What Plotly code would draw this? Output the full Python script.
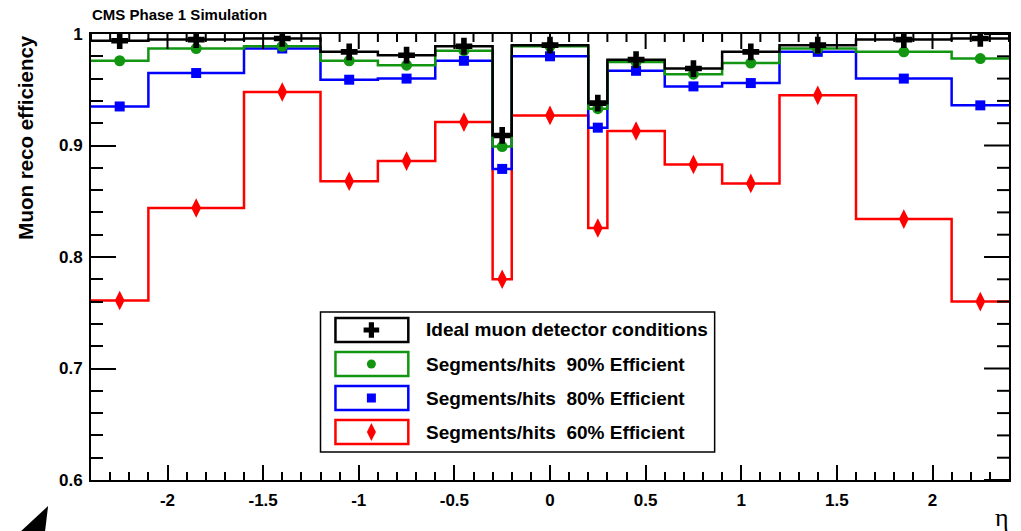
import plotly.graph_objects as go

# Bin edges and centres in eta
eta_edges = [-2.4, -2.1, -1.6, -1.2, -0.9, -0.6, -0.3, -0.2, 0.2, 0.3, 0.6, 0.9, 1.2, 1.6, 2.1, 2.4]
eta_centers = [-2.25, -1.85, -1.4, -1.05, -0.75, -0.45, -0.25, 0.0, 0.25, 0.45, 0.75, 1.05, 1.4, 1.85, 2.25]

# Muon reconstruction efficiency per eta bin
eff_ideal = [0.994, 0.995, 0.996, 0.984, 0.981, 0.989, 0.909, 0.990, 0.938, 0.977, 0.969, 0.984, 0.990, 0.995, 0.996]
eff_90 = [0.976, 0.987, 0.989, 0.976, 0.972, 0.985, 0.899, 0.989, 0.933, 0.975, 0.964, 0.974, 0.987, 0.984, 0.978]
eff_80 = [0.935, 0.965, 0.987, 0.959, 0.960, 0.976, 0.879, 0.980, 0.916, 0.967, 0.953, 0.956, 0.984, 0.960, 0.936]
eff_60 = [0.761, 0.844, 0.948, 0.868, 0.886, 0.921, 0.780, 0.927, 0.826, 0.913, 0.883, 0.866, 0.945, 0.834, 0.760]

series_names = [
    "Ideal muon detector conditions",
    "Segments/hits  90% Efficient",
    "Segments/hits  80% Efficient",
    "Segments/hits  60% Efficient",
]

x_tick_vals = [-2, -1.5, -1, -0.5, 0, 0.5, 1, 1.5, 2]
x_tick_text = ["-2", "-1.5", "-1", "-0.5", "0", "0.5", "1", "1.5", "2"]
y_tick_vals = [0.6, 0.7, 0.8, 0.9, 1.0]
y_tick_text = ["0.6", "0.7", "0.8", "0.9", "1"]

W, H = 1021, 531
L, R, T, B = 91, 10, 34, 51
PW, PH = W - L - R, H - T - B

X_RANGE = [-2.4, 2.4]
Y_RANGE = [0.6, 1.0]
X_MINOR, Y_MINOR = 0.1, 0.02
X_MAJOR_LEN, X_MINOR_LEN = 15, 8
Y_MAJOR_LEN, Y_MINOR_LEN = 25, 12


def px(x):
    return (x - L) / PW


def py(y):
    return (H - B - y) / PH


FONT = "Liberation Sans"
GREEN = "rgb(18,150,18)"

styles = [
    (eff_60, "red", "diamond-tall", 14),
    (eff_80, "blue", "square", 10),
    (eff_90, GREEN, "circle", 11),
    (eff_ideal, "black", "cross", 14),
]

fig = go.Figure()

for vals, col, sym, size in styles:
    # histogram outline
    fig.add_trace(go.Scatter(
        x=eta_edges, y=list(vals) + [vals[-1]], mode="lines",
        line=dict(color=col, width=2.5, shape="hv"),
        showlegend=False, hoverinfo="skip"))
for vals, col, sym, size in styles:
    fig.add_trace(go.Scatter(
        x=eta_centers, y=vals, mode="markers",
        marker=dict(color=col, symbol=sym, size=size, line=dict(width=0)),
        showlegend=False))

# Legend drawn as a framed box
box = dict(x0=321, x1=716, y0=312, y1=452)
shapes = [dict(type="rect", xref="paper", yref="paper",
               x0=px(box["x0"]), x1=px(box["x1"]), y0=py(box["y1"]), y1=py(box["y0"]),
               line=dict(color="black", width=1.5), fillcolor="white", layer="below")]
row_y = [330, 364, 398, 432]
leg_cols = ["black", GREEN, "blue", "red"]
leg_syms = [("cross", 13), ("circle", 9), ("square", 9), ("diamond-tall", 13)]
annotations = []
for ry, col, name in zip(row_y, leg_cols, series_names):
    shapes.append(dict(type="rect", xref="paper", yref="paper",
                       x0=px(336), x1=px(409), y0=py(ry + 12), y1=py(ry - 12),
                       line=dict(color=col, width=2.5), layer="below"))
    annotations.append(dict(text=name, xref="paper", yref="paper",
                            x=px(425), y=py(ry), xanchor="left", yanchor="middle",
                            showarrow=False,
                            font=dict(family=FONT, size=19, color="black", weight="bold")))

# legend glyphs on an overlay axis in plot-fraction units
for ry, col, (sym, size) in zip(row_y, leg_cols, leg_syms):
    fig.add_trace(go.Scatter(
        x=[px(372)], y=[py(ry)], mode="markers", xaxis="x2", yaxis="y2",
        marker=dict(color=col, symbol=sym, size=size, line=dict(width=0)),
        showlegend=False, hoverinfo="skip"))

# top and right frame ticks (mirrors of the bottom/left axes), in plot fractions
tick_line = dict(color="black", width=2)
x_span = X_RANGE[1] - X_RANGE[0]
y_span = Y_RANGE[1] - Y_RANGE[0]
n_x = int(round(x_span / X_MINOR))
for i in range(n_x + 1):
    xv = X_RANGE[0] + i * X_MINOR
    major = any(abs(xv - t) < 1e-6 for t in x_tick_vals)
    ln = X_MAJOR_LEN if major else X_MINOR_LEN
    xf = (xv - X_RANGE[0]) / x_span
    shapes.append(dict(type="line", xref="paper", yref="paper", x0=xf, x1=xf,
                       y0=1.0, y1=1.0 - ln / PH, line=tick_line, layer="above"))
n_y = int(round(y_span / Y_MINOR))
for i in range(n_y + 1):
    yv = Y_RANGE[0] + i * Y_MINOR
    major = any(abs(yv - t) < 1e-6 for t in y_tick_vals)
    ln = Y_MAJOR_LEN if major else Y_MINOR_LEN
    yf = (yv - Y_RANGE[0]) / y_span
    shapes.append(dict(type="line", xref="paper", yref="paper", x0=1.0, x1=1.0 - ln / PW,
                       y0=yf, y1=yf, line=tick_line, layer="above"))

# corner pointer glyph
shapes.append(dict(type="path", xref="paper", yref="paper",
                   path=f"M {px(48)} {py(506)} L {px(21)} {py(531)} L {px(45)} {py(531)} Z",
                   fillcolor="black", line=dict(width=0)))

annotations += [
    dict(text="CMS Phase 1 Simulation", xref="paper", yref="paper",
         x=px(90), y=py(15), xanchor="left", yanchor="middle", showarrow=False,
         font=dict(family=FONT, size=15, color="black", weight="bold")),
    dict(text="Muon reco efficiency", xref="paper", yref="paper", textangle=-90,
         x=px(25), y=py(33), xanchor="center", yanchor="top", showarrow=False,
         font=dict(family=FONT, size=20.5, color="black", weight="bold")),
    dict(text="η", xref="paper", yref="paper",
         x=px(1004), y=py(517), xanchor="center", yanchor="middle", showarrow=False,
         font=dict(family="Liberation Serif", size=26, color="black")),
]

axis_common = dict(showgrid=False, zeroline=False, showline=True, linecolor="black",
                   linewidth=2, mirror=True, ticks="inside", tickcolor="black", tickwidth=2)
tick_font = dict(family=FONT, size=17, color="black", weight="bold")

fig.update_layout(
    width=W, height=H, margin=dict(l=L, r=R, t=T, b=B),
    paper_bgcolor="white", plot_bgcolor="white",
    showlegend=False,
    xaxis=dict(range=X_RANGE, tickmode="array", tickvals=x_tick_vals, ticktext=x_tick_text,
               ticklen=X_MAJOR_LEN, ticklabelstandoff=4, tickfont=tick_font,
               minor=dict(tickmode="linear", tick0=0, dtick=X_MINOR, ticks="inside",
                          ticklen=X_MINOR_LEN, tickcolor="black", tickwidth=2),
               **axis_common),
    yaxis=dict(range=Y_RANGE, tickmode="array", tickvals=y_tick_vals, ticktext=y_tick_text,
               ticklen=Y_MAJOR_LEN, ticklabelstandoff=3, tickfont=tick_font,
               minor=dict(tickmode="linear", tick0=0.6, dtick=Y_MINOR, ticks="inside",
                          ticklen=Y_MINOR_LEN, tickcolor="black", tickwidth=2),
               **axis_common),
    xaxis2=dict(overlaying="x", range=[0, 1], visible=False),
    yaxis2=dict(overlaying="y", range=[0, 1], visible=False),
    shapes=shapes,
    annotations=annotations,
)

fig.write_html("out.html")
